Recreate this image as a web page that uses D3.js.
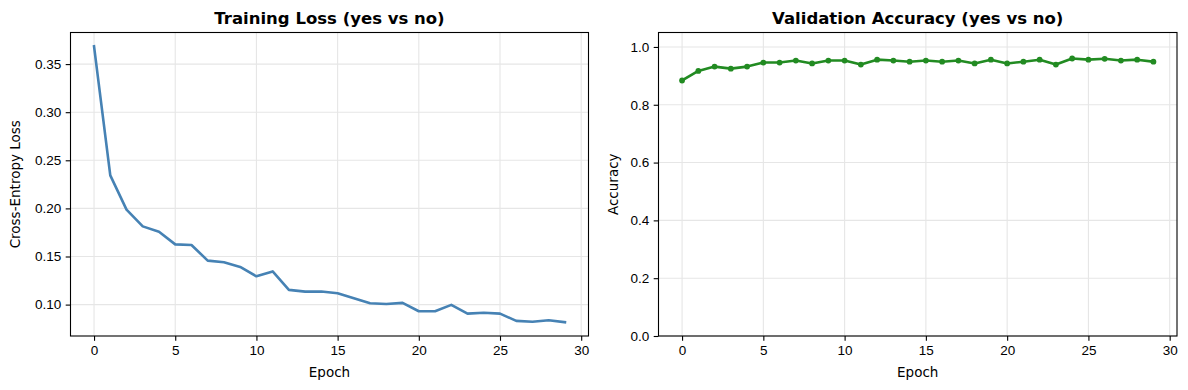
<!DOCTYPE html>
<html>
<head>
<meta charset="utf-8">
<script src="https://cdn.jsdelivr.net/npm/d3@7"></script>
<style>
  body { margin: 0; background: #fff; }
  svg { display: block; font-family: "DejaVu Sans", sans-serif; }
  .tick text { font-size: 13.5px; fill: #000; }
  .tick line { stroke: #000; stroke-width: 1.1; }
  .domain { display: none; }
</style>
</head>
<body>
<script>
// chart values
var epochs = d3.range(0, 30);
var trainLoss = [0.3685, 0.2343, 0.1987, 0.1813, 0.1758, 0.1626, 0.1620, 0.1457, 0.1440, 0.1392,
                 0.1294, 0.1345, 0.1153, 0.1135, 0.1136, 0.1118, 0.1066, 0.1014, 0.1007, 0.1018,
                 0.0931, 0.0931, 0.0997, 0.0906, 0.0916, 0.0906, 0.0831, 0.0821, 0.0837, 0.0817];
var valAcc = [0.884, 0.917, 0.932, 0.925, 0.932, 0.946, 0.946, 0.953, 0.943, 0.953,
              0.953, 0.939, 0.956, 0.953, 0.949, 0.953, 0.949, 0.953, 0.943, 0.956,
              0.943, 0.949, 0.956, 0.939, 0.960, 0.956, 0.959, 0.953, 0.956, 0.949];
var xTicks = [0, 5, 10, 15, 20, 25, 30];
var lossTicks = [0.10, 0.15, 0.20, 0.25, 0.30, 0.35];
var accTicks = [0.0, 0.2, 0.4, 0.6, 0.8, 1.0];

var width = 1188;
var height = 390;
var plotTop = 32.5, plotBottom = 336;

var svg = d3.select("body")
    .append("svg")
    .attr("width", width)
    .attr("height", height);

// matplotlib style 5% margins
function padded (ext) {
  var r = ext[1] - ext[0];
  return [ext[0] - 0.05 * r, ext[1] + 0.05 * r];
}

function drawPanel (opt) {
  var xScale = d3.scaleLinear().domain(padded(d3.extent(epochs))).range([opt.left, opt.right]);
  var yScale = d3.scaleLinear().domain(opt.yDomain).range([plotBottom, plotTop]);
  var g = svg.append("g");

  // grid
  g.selectAll(".gx").data(xTicks).enter().append("line")
    .attr("x1", function(d) { return xScale(d); })
    .attr("x2", function(d) { return xScale(d); })
    .attr("y1", plotTop).attr("y2", plotBottom)
    .attr("stroke", "#e6e6e6").attr("stroke-width", 1.1);
  g.selectAll(".gy").data(opt.yTicks).enter().append("line")
    .attr("x1", opt.left).attr("x2", opt.right)
    .attr("y1", function(d) { return yScale(d); })
    .attr("y2", function(d) { return yScale(d); })
    .attr("stroke", "#e6e6e6").attr("stroke-width", 1.1);

  // line
  var line = d3.line()
    .x(function(d, i) { return xScale(epochs[i]); })
    .y(function(d) { return yScale(d); });
  g.append("path")
    .datum(opt.values)
    .attr("d", line)
    .attr("fill", "none")
    .attr("stroke", opt.color)
    .attr("stroke-width", 2.6)
    .attr("stroke-linejoin", "round")
    .attr("stroke-linecap", "square");

  if (opt.markers) {
    g.selectAll(".dot").data(opt.values).enter().append("circle")
      .attr("cx", function(d, i) { return xScale(epochs[i]); })
      .attr("cy", function(d) { return yScale(d); })
      .attr("r", 2.9)
      .attr("fill", opt.color);
  }

  // axes
  g.append("g")
    .attr("transform", "translate(0," + plotBottom + ")")
    .call(d3.axisBottom(xScale).tickValues(xTicks).tickSize(4.8).tickPadding(4.5).tickFormat(d3.format("d")));
  g.append("g")
    .attr("transform", "translate(" + opt.left + ",0)")
    .call(d3.axisLeft(yScale).tickValues(opt.yTicks).tickSize(4.8).tickPadding(4.5).tickFormat(d3.format(opt.fmt)));

  // frame
  g.append("rect")
    .attr("x", opt.left).attr("y", plotTop)
    .attr("width", opt.right - opt.left).attr("height", plotBottom - plotTop)
    .attr("fill", "none").attr("stroke", "#000").attr("stroke-width", 1.1);

  // title and labels
  g.append("text")
    .attr("x", (opt.left + opt.right) / 2).attr("y", 24)
    .attr("text-anchor", "middle")
    .attr("font-size", "16.5px").attr("font-weight", "bold")
    .text(opt.title);
  g.append("text")
    .attr("x", (opt.left + opt.right) / 2).attr("y", 377)
    .attr("text-anchor", "middle")
    .attr("font-size", "13.5px")
    .text("Epoch");
  g.append("text")
    .attr("transform", "translate(" + opt.yLabelX + "," + ((plotTop + plotBottom) / 2) + ") rotate(-90)")
    .attr("text-anchor", "middle")
    .attr("font-size", "13.5px")
    .text(opt.yLabel);
}

drawPanel({
  left: 70.5, right: 588.5,
  values: trainLoss,
  yDomain: padded(d3.extent(trainLoss)),
  yTicks: lossTicks, fmt: ".2f",
  color: "#4682b4", markers: false,
  title: "Training Loss (yes vs no)",
  yLabel: "Cross-Entropy Loss", yLabelX: 20
});

drawPanel({
  left: 658.5, right: 1177,
  values: valAcc,
  yDomain: [0, 1.05],
  yTicks: accTicks, fmt: ".1f",
  color: "#228b22", markers: true,
  title: "Validation Accuracy (yes vs no)",
  yLabel: "Accuracy", yLabelX: 618
});
</script>
</body>
</html>
